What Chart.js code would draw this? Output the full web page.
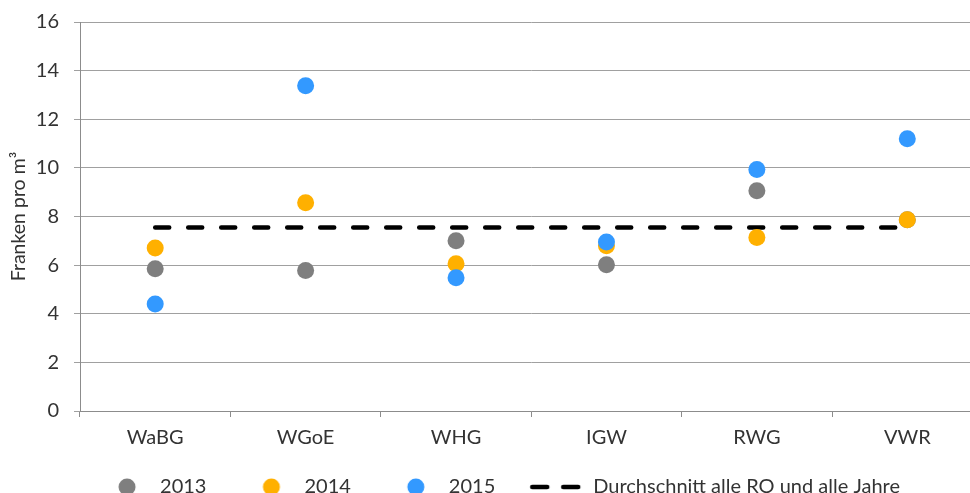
<!DOCTYPE html>
<html>
<head>
<meta charset="utf-8">
<script src="https://cdn.jsdelivr.net/npm/chart.js@4.4.1/dist/chart.umd.min.js"></script>
<style>
    html, body { margin: 0; padding: 0; background: #fff; overflow: hidden; }
    #wrap { width: 1010px; height: 493px; margin-left: -19px; }
</style>
</head>
<body>
<div id="wrap"><canvas id="chart"></canvas></div>
<script>
const categories = ['WaBG', 'WGoE', 'WHG', 'IGW', 'RWG', 'VWR'];
const values2013 = [5.85, 5.78, 7.0, 6.02, 9.06, 7.87];
const values2014 = [6.7, 8.57, 6.06, 6.8, 7.14, 7.87];
const values2015 = [4.4, 13.38, 5.48, 6.95, 9.93, 11.2];
const averageAll = [7.55, 7.55, 7.55, 7.55, 7.55, 7.55];
const yTickValues = [0, 2, 4, 6, 8, 10, 12, 14, 16];
const seriesNames = ['2013', '2014', '2015', 'Durchschnitt alle RO und alle Jahre'];

const gray = '#7f7f7f';
const orange = '#ffb000';
const blue = '#3399ff';
const textColor = '#333333';
const fontFamily = 'Lato, "Open Sans", sans-serif';

const padBottom = -14;
const plotBottom = 411;

// legend icons: wide transparent canvas, mark drawn near the right so that
// the gap between items is larger than the gap between icon and text
const iconWidth = 78;

function dotImage(color) {
    const c = document.createElement('canvas');
    c.width = iconWidth;
    c.height = 18;
    const g = c.getContext('2d');
    g.fillStyle = color;
    g.beginPath();
    g.arc(55, 9, 8.5, 0, Math.PI * 2);
    g.fill();
    return c;
}

function dashImage() {
    const c = document.createElement('canvas');
    c.width = iconWidth;
    c.height = 8;
    const g = c.getContext('2d');
    g.strokeStyle = '#000';
    g.lineWidth = 4.5;
    g.lineCap = 'round';
    g.beginPath();
    g.moveTo(27, 4); g.lineTo(42, 4);
    g.moveTo(58, 4); g.lineTo(73, 4);
    g.stroke();
    return c;
}

const legendIcons = [dotImage(gray), dotImage(orange), dotImage(blue), dashImage()];

function pointSet(label, data, color, order) {
    return {
        label: label,
        data: data,
        showLine: false,
        backgroundColor: color,
        borderColor: color,
        pointRadius: 8.5,
        pointHoverRadius: 8.5,
        pointBorderWidth: 0,
        order: order
    };
}

const ctx = document.getElementById('chart').getContext('2d');
new Chart(ctx, {
    type: 'line',
    data: {
        labels: categories,
        datasets: [
            pointSet(seriesNames[0], values2013, gray, 3),
            pointSet(seriesNames[1], values2014, orange, 2),
            pointSet(seriesNames[2], values2015, blue, 1),
            {
                label: seriesNames[3],
                data: averageAll,
                borderColor: '#000',
                borderWidth: 4.5,
                borderDash: [14, 19],
                borderCapStyle: 'round',
                pointRadius: 0,
                fill: false,
                order: 4
            }
        ]
    },
    options: {
        responsive: true,
        maintainAspectRatio: false,
        animation: false,
        layout: { padding: { top: 22, right: 0, bottom: padBottom, left: 0 } },
        scales: {
            x: {
                type: 'category',
                offset: true,
                grid: {
                    offset: true,
                    drawOnChartArea: false,
                    drawTicks: true,
                    tickLength: 6,
                    color: '#8c8c8c'
                },
                border: { display: true, color: '#8c8c8c', width: 1 },
                ticks: {
                    color: textColor,
                    font: { family: fontFamily, size: 20 },
                    padding: 9
                },
                afterFit: function (scale) {
                    const legendHeight = scale.chart.legend ? scale.chart.legend.height : 0;
                    scale.height = Math.max(10, scale.chart.height - padBottom - legendHeight - plotBottom);
                    scale.paddingLeft = 0;
                    scale.paddingRight = 0;
                }
            },
            y: {
                min: 0,
                max: 16,
                afterBuildTicks: function (scale) {
                    scale.ticks = yTickValues.map(v => ({ value: v }));
                },
                grid: {
                    color: '#a0a0a0',
                    drawTicks: true,
                    tickLength: 6
                },
                border: { display: true, color: '#8c8c8c', width: 1 },
                ticks: {
                    color: textColor,
                    font: { family: fontFamily, size: 20 },
                    padding: 15
                },
                title: {
                    display: true,
                    text: 'Franken pro m³',
                    color: textColor,
                    font: { family: fontFamily, size: 19.5 },
                    padding: { top: 26, bottom: 0 }
                },
                afterFit: function (scale) {
                    scale.width = 99;
                    scale.paddingTop = 0;
                    scale.paddingBottom = 0;
                }
            }
        },
        plugins: {
            legend: {
                position: 'bottom',
                labels: {
                    usePointStyle: true,
                    pointStyleWidth: iconWidth,
                    padding: 10,
                    color: textColor,
                    font: { family: fontFamily, size: 20 },
                    generateLabels: function (chart) {
                        return chart.data.datasets.map((ds, i) => ({
                            text: ds.label,
                            pointStyle: legendIcons[i],
                            fillStyle: ds.backgroundColor || ds.borderColor,
                            strokeStyle: ds.borderColor,
                            lineWidth: 0,
                            fontColor: textColor,
                            hidden: false,
                            datasetIndex: i
                        }));
                    }
                }
            },
            tooltip: { enabled: false }
        }
    }
});
</script>
</body>
</html>
